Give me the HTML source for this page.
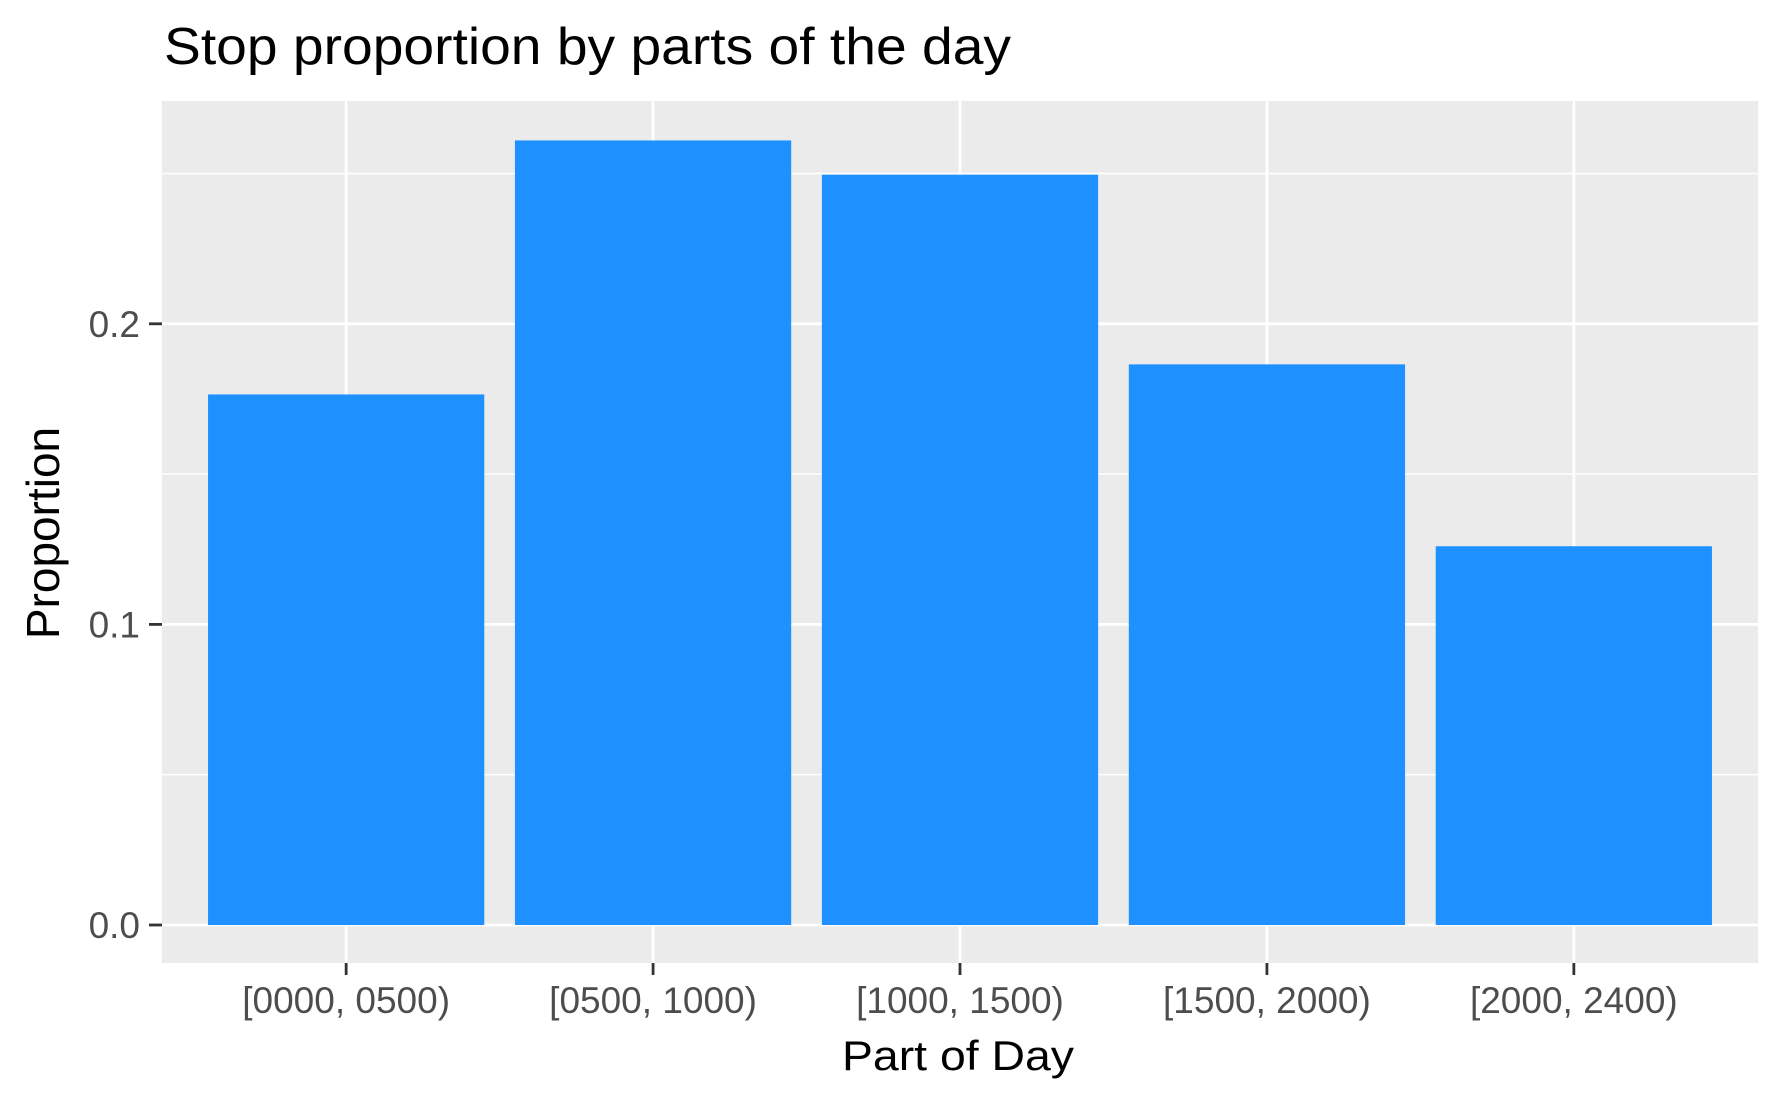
<!DOCTYPE html>
<html><head><meta charset="utf-8"><style>
html,body{margin:0;padding:0;background:#fff;}
svg{display:block;font-family:"Liberation Sans",Arial,sans-serif;}
</style></head><body>
<svg id="chart" width="1781" height="1103" viewBox="0 0 1781 1103">
<text x="164" y="64" font-size="52" fill="#000" textLength="847" lengthAdjust="spacingAndGlyphs">Stop proportion by parts of the day</text>
<rect x="162" y="101" width="1596" height="862" fill="#EBEBEB"/>
<g id="grid"></g>
<g id="bars"></g>
<g id="axes"></g>
<text x="958" y="1070" font-size="42" text-anchor="middle" fill="#000" textLength="232" lengthAdjust="spacingAndGlyphs">Part of Day</text>
<text transform="translate(59,533) rotate(-90)" font-size="46" text-anchor="middle" fill="#000">Proportion</text>
</svg>
<script>
const categories = ["[0000, 0500)", "[0500, 1000)", "[1000, 1500)", "[1500, 2000)", "[2000, 2400)"];
const values = [0.1765, 0.261, 0.2496, 0.1865, 0.126];
const yTicks = [0.0, 0.1, 0.2];
const yTickLabels = ["0.0", "0.1", "0.2"];
const yMinor = [0.05, 0.15, 0.25];

const NS = "http://www.w3.org/2000/svg";
const panelL = 162, panelR = 1758, panelT = 101, panelB = 963;
const y0 = 925, pxPerUnit = 3006;
function yScale(v){ return y0 - v * pxPerUnit; }
const step = (panelR - panelL) / (categories.length + 0.2);
function xScale(i){ return panelL + step * (0.6 + i); }
function mk(tag, attrs, parent){
  const el = document.createElementNS(NS, tag);
  for (const k in attrs) el.setAttribute(k, attrs[k]);
  parent.appendChild(el);
  return el;
}
const grid = document.getElementById('grid');
const bars = document.getElementById('bars');
const axes = document.getElementById('axes');

yMinor.forEach(v => {
  const l = mk('line', {x1: panelL, x2: panelR, y1: yScale(v), y2: yScale(v), stroke: '#fff', 'stroke-width': 1.4}, grid);
  
  
});
yTicks.forEach((v, i) => {
  const l = mk('line', {x1: panelL, x2: panelR, y1: yScale(v), y2: yScale(v), stroke: '#fff', 'stroke-width': 2.8}, grid);
  
  
  const t = mk('line', {x1: 149, x2: panelL, y1: yScale(v), y2: yScale(v), stroke: '#333', 'stroke-width': 2.8}, axes);
  
  
  const tx = mk('text', {x: 140, y: yScale(v) + 13, 'font-size': 37, fill: '#4D4D4D', 'text-anchor': 'end'}, axes);
  tx.textContent = yTickLabels[i];
  
  
});
categories.forEach((c, i) => {
  const x = xScale(i);
  const g = mk('line', {x1: x, x2: x, y1: panelT, y2: panelB, stroke: '#fff', 'stroke-width': 2.8}, grid);
  
  
  const w = step * 0.9;
  const b = mk('rect', {x: x - w / 2, y: yScale(values[i]), width: w, height: yScale(0) - yScale(values[i]), fill: '#1E90FF'}, bars);
  
  
  const t = mk('line', {x1: x, x2: x, y1: panelB, y2: panelB + 12, stroke: '#333', 'stroke-width': 2.8}, axes);
  
  
  const tx = mk('text', {x: x, y: 1013, 'font-size': 37, fill: '#4D4D4D', 'text-anchor': 'middle'}, axes);
  tx.textContent = c;
  
  
});
</script>
</body></html>
